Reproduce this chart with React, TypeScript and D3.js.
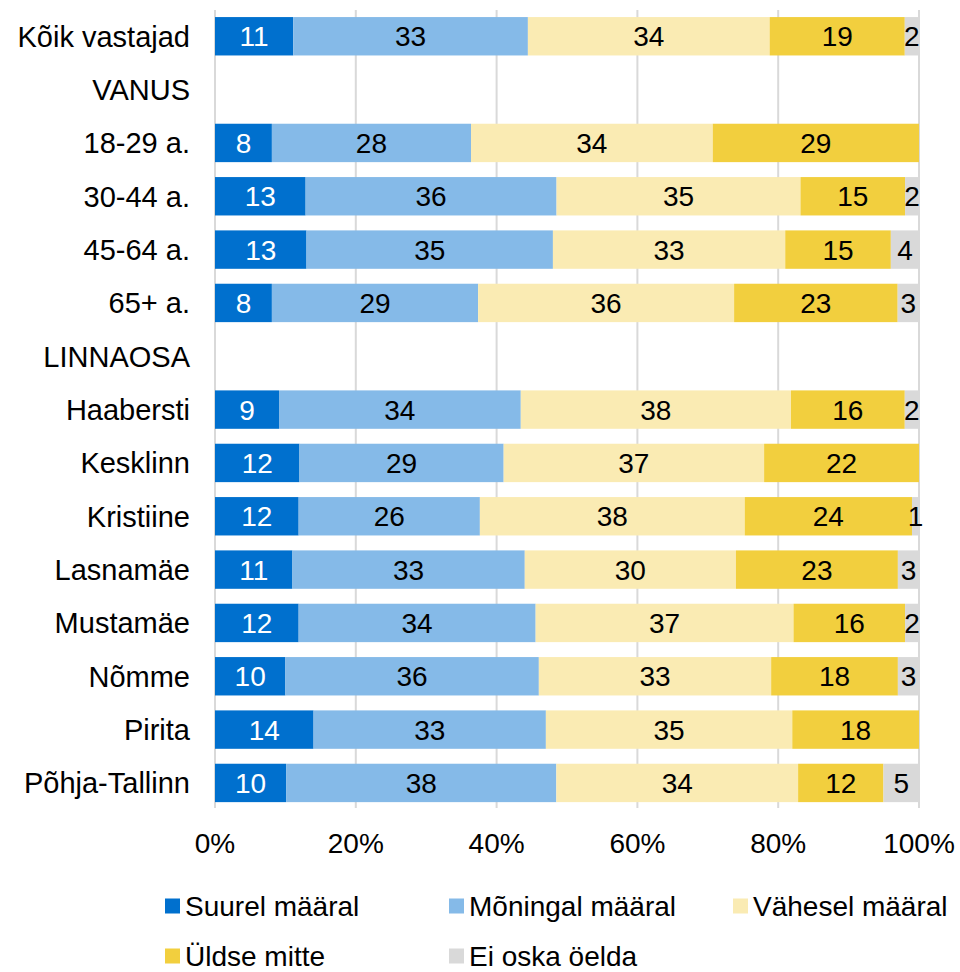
import React from "react";
import * as d3 from "d3";

const categories = [
  "Kõik vastajad", "VANUS", "18-29 a.", "30-44 a.", "45-64 a.", "65+ a.",
  "LINNAOSA", "Haabersti", "Kesklinn", "Kristiine", "Lasnamäe", "Mustamäe",
  "Nõmme", "Pirita", "Põhja-Tallinn",
];
const seriesNames = ["Suurel määral", "Mõningal määral", "Vähesel määral", "Üldse mitte", "Ei oska öelda"];
const suurel = [11, null, 8, 13, 13, 8, null, 9, 12, 12, 11, 12, 10, 14, 10];
const moningal = [33, null, 28, 36, 35, 29, null, 34, 29, 26, 33, 34, 36, 33, 38];
const vahesel = [34, null, 34, 35, 33, 36, null, 38, 37, 38, 30, 37, 33, 35, 34];
const uldse = [19, null, 29, 15, 15, 23, null, 16, 22, 24, 23, 16, 18, 18, 12];
const eiOska = [2, null, 0, 2, 4, 3, null, 2, 0, 1, 3, 2, 3, 0, 5];
const tickValues = [0, 0.2, 0.4, 0.6, 0.8, 1];
const tickLabels = ["0%", "20%", "40%", "60%", "80%", "100%"];

const colors = ["#0070CE", "#85BAE8", "#FAEBB3", "#F2CF3E", "#D9D9D9"];
const textColors = ["#FFFFFF", "#000000", "#000000", "#000000", "#000000"];
const FONT = "'Liberation Sans', Arial, sans-serif";

export default function App() {
  const W = 960, H = 972;
  const x = d3.scaleLinear().domain([0, 1]).range([215, 919]);
  const y = d3.scaleBand<string>().domain(categories).range([9.6, 809.6]).paddingInner(0.28).paddingOuter(0.14);

  const seriesArrays = [suurel, moningal, vahesel, uldse, eiOska];
  const rows = categories.map((c, i) => {
    const r: any = { cat: c, has: suurel[i] !== null };
    seriesNames.forEach((s, k) => { r[s] = seriesArrays[k][i] ?? 0; });
    return r;
  });
  const stacked = d3.stack<any>().keys(seriesNames).offset(d3.stackOffsetExpand)(rows.filter(r => r.has));

  return (
    <svg width={W} height={H} style={{ position: "absolute", left: 0, top: 0, background: "#fff" }} fontFamily={FONT}>
      {tickValues.map((t, i) => (
        <line key={"g" + i} x1={x(t)} x2={x(t)} y1={10} y2={808} stroke="#D9D9D9" strokeWidth={2} />
      ))}
      {stacked.map((layer, k) => (
        <g key={layer.key} fill={colors[k]}>
          {layer.map((d: any) => {
            const cat = d.data.cat;
            const val = d.data[layer.key];
            if (!val) return null;
            const x0 = x(d[0]), x1 = x(d[1]);
            const yy = y(cat)!;
            return (
              <g key={cat}>
                <rect x={x0} y={yy} width={x1 - x0} height={y.bandwidth()} />
                <text x={(x0 + x1) / 2} y={yy + y.bandwidth() / 2} dy="0.36em" textAnchor="middle" fontSize={28} fill={textColors[k]}>{val}</text>
              </g>
            );
          })}
        </g>
      ))}
      {categories.map((c) => (
        <text key={c} x={190} y={y(c)! + y.bandwidth() / 2} dy="0.36em" textAnchor="end" fontSize={29} fill="#000">{c}</text>
      ))}
      {tickValues.map((t, i) => (
        <text key={"t" + i} x={x(t)} y={843} dy="0.36em" textAnchor="middle" fontSize={28} fill="#000">{tickLabels[i]}</text>
      ))}
      {seriesNames.map((s, k) => {
        const col = k % 3, row = Math.floor(k / 3);
        const lx = 165 + col * 284, ly = 906 + row * 50;
        return (
          <g key={s}>
            <rect x={lx} y={ly - 7.5} width={15} height={15} fill={colors[k]} />
            <text x={lx + 20} y={ly} dy="0.36em" fontSize={28} fill="#000">{s}</text>
          </g>
        );
      })}
    </svg>
  );
}
